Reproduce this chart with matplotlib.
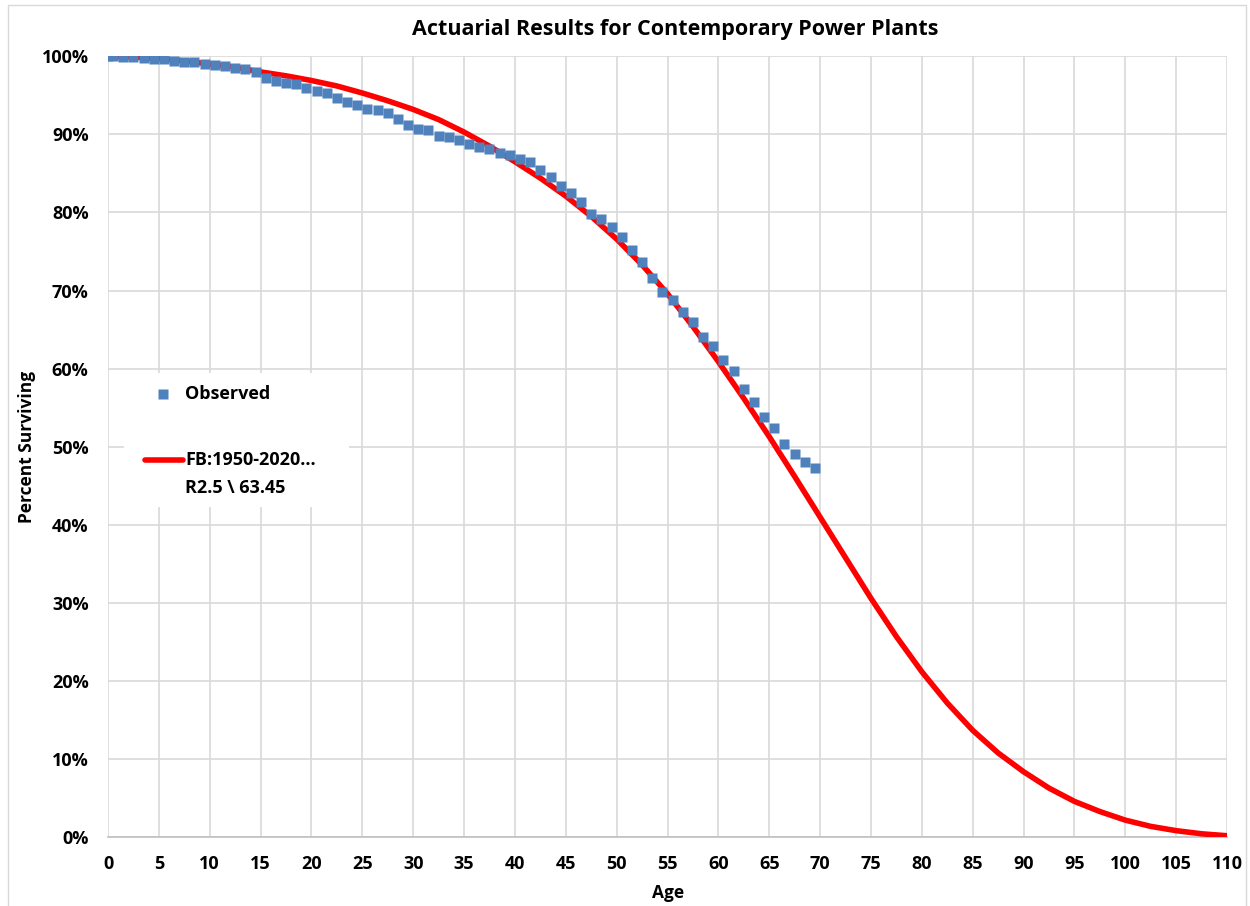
import matplotlib
matplotlib.use("Agg")
import matplotlib.pyplot as plt
from matplotlib.lines import Line2D
from matplotlib.patches import Rectangle
from matplotlib.ticker import MultipleLocator, FuncFormatter

plt.rcParams["font.family"] = ["Open Sans", "DejaVu Sans"]
plt.rcParams["font.weight"] = "bold"

# observed survivorship (ages 0, 0.5, 1.5 ... 69.5)
obs_age = [0.0] + [a + 0.5 for a in range(70)]
obs_pct = [
    100.0, 100.0, 99.9, 99.9, 99.8, 99.7, 99.6, 99.4, 99.3, 99.3, 99.05,
    98.9, 98.8, 98.5, 98.4, 98.0, 97.2, 96.9, 96.6, 96.4, 96.0,
    95.6, 95.3, 94.7, 94.1, 93.8, 93.3, 93.1, 92.8, 92.0, 91.2,
    90.7, 90.5, 89.8, 89.7, 89.3, 88.8, 88.4, 88.1, 87.65, 87.4,
    86.9, 86.5, 85.4, 84.6, 83.4, 82.5, 81.4, 79.8, 79.2, 78.2,
    76.9, 75.2, 73.7, 71.65, 69.8, 68.8, 67.3, 66.0, 64.1, 62.9,
    61.1, 59.7, 57.4, 55.7, 53.8, 52.4, 50.4, 49.1, 48.1, 47.3,
]

# fitted Iowa R2.5 curve, read every 2.5 years
fit_age = [i * 2.5 for i in range(45)]
fit_pct = [
    100.0, 99.9, 99.7, 99.4, 99.0, 98.6, 98.0, 97.5, 96.9, 96.2,
    95.3, 94.3, 93.2, 91.9, 90.3, 88.5, 86.5, 84.4, 82.1, 79.5,
    76.6, 73.3, 69.6, 65.4, 60.9, 56.2, 51.3, 46.2, 41.0, 35.8,
    30.6, 25.7, 21.2, 17.2, 13.7, 10.8, 8.4, 6.3, 4.6, 3.3,
    2.2, 1.4, 0.85, 0.45, 0.2,
]

title = "Actuarial Results for Contemporary Power Plants"
obs_label = "Observed"
fit_label = ["FB:1950-2020...", "R2.5 \\ 63.45"]

OBS_COLOR = "#4F81BD"
FIT_COLOR = "#FF0000"
GRID_COLOR = "#D9D9D9"

W, H = 1250, 906
fig = plt.figure(figsize=(W / 100, H / 100), dpi=100)
ax = fig.add_axes([108 / W, 1 - 837.3 / H, 1119 / W, 781 / H])

ax.plot(fit_age, fit_pct, color=FIT_COLOR, lw=4.0, zorder=3,
        solid_capstyle="butt", solid_joinstyle="round")
ax.plot(obs_age, obs_pct, ls="none", marker="s", ms=7.6, color=OBS_COLOR, mec="none", zorder=4)

ax.set_xlim(0, 110)
ax.set_ylim(0, 100)
ax.xaxis.set_major_locator(MultipleLocator(5))
ax.yaxis.set_major_locator(MultipleLocator(10))
ax.yaxis.set_major_formatter(FuncFormatter(lambda v, _: f"{v:.0f}%"))
ax.grid(True, color=GRID_COLOR, lw=1.2)
ax.set_axisbelow(True)
for side in ("top", "right", "left"):
    ax.spines[side].set_visible(False)
ax.spines["bottom"].set_color("#BFBFBF")
ax.spines["bottom"].set_linewidth(1.2)
ax.tick_params(length=0, labelsize=13)
ax.tick_params(axis="y", pad=14)
ax.tick_params(axis="x", pad=13)
for lbl in ax.get_xticklabels() + ax.get_yticklabels():
    lbl.set_fontweight("bold")

ax.set_xlabel("Age", fontsize=12.5, fontweight="bold")
ax.set_ylabel("Percent Surviving", fontsize=12.5, fontweight="bold")
ax.xaxis.set_label_coords((668 - 108) / 1119, (837.3 - 893) / 781)
ax.yaxis.set_label_coords((27 - 108) / 1119, (837.3 - 447) / 781)
ax.xaxis.label.set_va("center")
ax.yaxis.label.set_va("center")

fig.text(675 / W, 1 - 30 / H, title, ha="center", va="center", fontsize=15.5, fontweight="bold")

# legend drawn by hand so the line sits on the first label row
def axc(px, py):
    return (px - 108) / 1119, (837.3 - py) / 781

x0, y0 = axc(124, 507)
x1, y1 = axc(349, 373)
ax.add_patch(Rectangle((x0, y0), x1 - x0, y1 - y0, transform=ax.transAxes,
                       facecolor="white", edgecolor="none", zorder=2))
mx, my = axc(163, 394)
ax.add_line(Line2D([mx], [my], transform=ax.transAxes, ls="none", marker="s",
                   ms=7.6, color=OBS_COLOR, mec="none", zorder=5))
tx, _ = axc(185, 0)
ax.text(tx, my, obs_label, transform=ax.transAxes, ha="left", va="center",
        fontsize=13, fontweight="bold", zorder=5)
lx0, ly = axc(145, 460)
lx1, _ = axc(183, 460)
ax.add_line(Line2D([lx0, lx1], [ly, ly], transform=ax.transAxes, color=FIT_COLOR,
                   lw=4.0, solid_capstyle="round", zorder=5))
ax.text(tx, ly, fit_label[0], transform=ax.transAxes, ha="left", va="center",
        fontsize=13, fontweight="bold", zorder=5)
_, ly2 = axc(0, 488)
ax.text(tx, ly2, fit_label[1], transform=ax.transAxes, ha="left", va="center",
        fontsize=13, fontweight="bold", zorder=5)

# chart area border
fig.add_artist(Line2D([8 / W, 8 / W, 1246 / W, 1246 / W], [0, 1 - 5 / H, 1 - 5 / H, 0],
                      transform=fig.transFigure, color="#D9D9D9", lw=1.0))

fig.savefig("out.png", dpi=100)
